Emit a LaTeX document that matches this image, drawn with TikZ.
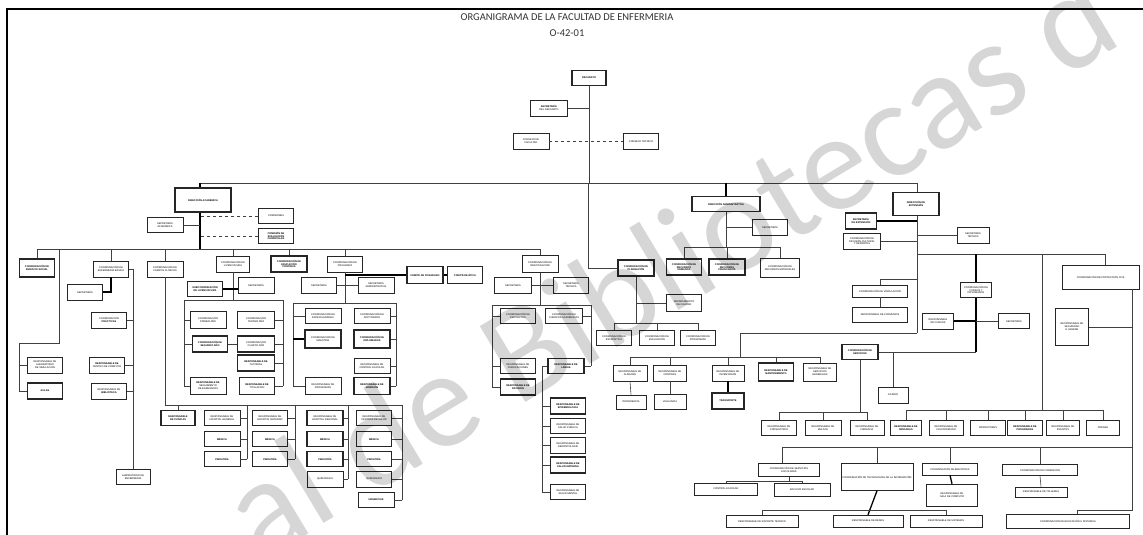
\documentclass[tikz,border=0pt]{standalone}
\usepackage{fontspec}
\newfontfamily\titlefont{Carlito}
\newfontfamily\boxfont{Liberation Sans}
\usetikzlibrary{positioning}

\tikzset{
  unit/.style={draw=black!85, line width=.6pt, fill=white, align=center,
    inner sep=.5pt, font=\boxfont\fontsize{2.5}{2.9}\selectfont},
  unitb/.style={unit, line width=1.4pt},
  link/.style={draw=black!75, line width=.6pt},
  linkb/.style={draw=black, line width=1.3pt},
  advise/.style={link, dashed},
}
% \unitbox[style]{name}{x}{y}{width}{height}{text}
\newcommand{\unitbox}[7][unit]{\node[#1, minimum width=#5pt, minimum height=#6pt] (#2) at (#3,#4) {#7};}

\begin{document}
\begin{tikzpicture}[x=1pt,y=-1pt]
\useasboundingbox[fill=white] (0,0) rectangle (1143,535);
\draw[line width=2pt] (7,535) -- (7,9) -- (1143,9);

\node[font=\titlefont\fontsize{10.5}{12}\selectfont, text=black!80] (title) at (567,17) {ORGANIGRAMA DE LA FACULTAD DE ENFERMERIA};
\node[font=\titlefont\fontsize{10.5}{12}\selectfont, text=black!80, below=2pt of title] (code) {O-42-01};

% decanato
\unitbox[unitb]{dec}{589}{78}{34}{15}{\textbf{DECANATO}}
\unitbox{sec}{549}{108}{37}{16}{\textbf{SECRETARÍA}\\DEL DECANATO}
\unitbox{cons}{531}{141}{36}{16}{CONSEJO DE\\FACULTAD}
\unitbox{asam}{641}{141}{35}{16}{CONSEJO TÉCNICO}

% direcciones
\unitbox[unitb]{diracad}{203}{200}{56}{24}{\textbf{DIRECCIÓN ACADÉMICA}}
\unitbox[unitb]{diradm}{726}{204}{68}{15}{\textbf{DIRECCIÓN ADMINISTRATIVA}}
\unitbox[unitb]{dirpos}{916}{204}{46}{23}{\textbf{DIRECCIÓN DE}\\\textbf{EXTENSIÓN}}

% academica
\unitbox{secacad}{165}{225}{36}{15}{SECRETARÍA\\ACADÉMICA}
\unitbox{comis1}{276}{216}{35}{15}{COMISIONES}
\unitbox[unitb]{comis2}{276}{236}{35}{15}{\textbf{COMISIÓN DE}\\\textbf{EVALUACIÓN}\\\textbf{CURRICULAR}}
\unitbox[unitb]{c1}{37}{268}{35}{18}{\textbf{COORDINACIÓN DE}\\\textbf{SERVICIO SOCIAL}}
\unitbox{c2}{111}{269}{35}{16}{COORDINACIÓN DE\\ENFERMERÍA BÁSICA}
\unitbox{c3}{165}{269}{36}{16}{COORDINACIÓN DE\\CAMPOS CLÍNICOS}
\unitbox{c4}{233}{264}{33}{16}{COORDINACIÓN DE\\LICENCIATURA}
\unitbox[unitb]{c5}{289}{264}{36}{16}{\textbf{COORDINACIÓN DE}\\\textbf{EDUCACIÓN}\\\textbf{CONTINUA}}
\unitbox{c6}{345}{264}{35}{16}{COORDINACIÓN DE\\POSGRADO}
\unitbox{c7}{540}{264}{36}{17}{COORDINACIÓN DE\\INVESTIGACIÓN}

\unitbox{c2a}{85}{292}{35}{16}{SECRETARÍA}
\unitbox{lA}{45}{365}{35}{16}{RESPONSABLE DE\\LABORATORIO\\DE SIMULACIÓN}
\unitbox[unitb]{lB}{45}{391}{35}{16}{\textbf{AULAS}}
\unitbox{c2r1}{109}{320}{35}{16}{COORDINACIÓN\\\textbf{PRÁCTICAS}}
\unitbox{c2r2}{107}{365}{35}{16}{\textbf{RESPONSABLE DE}\\CENTRO DE CÓMPUTO}
\unitbox{c2r3}{109}{391}{35}{16}{RESPONSABLE DE\\\textbf{BIBLIOTECA}}
\unitbox{c2r4}{133}{477}{34}{15}{LABORATORIO DE\\ENFERMERÍA}

\unitbox[unitb]{c4a}{205}{289}{35}{15}{\textbf{SUBCOORDINACIÓN}\\\textbf{DE LICENCIATURA}}
\unitbox{c4b}{256}{285}{36}{16}{SECRETARÍA}
\unitbox{g4l1}{208}{320}{36}{17}{COORDINACIÓN\\PRIMER AÑO}
\unitbox[unitb]{g4l2}{210}{344}{35}{16}{\textbf{COORDINACIÓN DE}\\\textbf{SEGUNDO AÑO}}
\unitbox{g4l3}{208}{386}{36}{17}{\textbf{RESPONSABLE DE}\\SEGUIMIENTO\\DE EGRESADOS}
\unitbox{g4r1}{256}{320}{37}{17}{COORDINACIÓN\\TERCER AÑO}
\unitbox[unitb]{g4r2}{256}{344}{37}{16}{COORDINACIÓN\\CUARTO AÑO}
\unitbox[unitb]{g4r3}{256}{363}{37}{16}{\textbf{RESPONSABLE DE}\\TUTORÍAS}
\unitbox{g4r4}{257}{386}{35}{17}{\textbf{RESPONSABLE DE}\\TITULACIÓN}

\unitbox{c6a}{319}{285}{35}{16}{SECRETARÍA}
\unitbox{c6b}{376}{285}{36}{16}{SECRETARÍA\\ADMINISTRATIVA}
\unitbox[unitb]{u1}{425}{275}{36}{17}{\textbf{COMITÉ DE POSGRADO}}
\unitbox[unitb]{u2}{465}{275}{35}{17}{\textbf{COMITÉ DE ÉTICA}}
\unitbox{g6l1}{323}{316}{36}{15}{COORDINACIÓN DE\\ESPECIALIDADES}
\unitbox[unitb]{g6l2}{323}{339}{36}{18}{COORDINACIÓN DE\\MAESTRÍA}
\unitbox{g6l3}{323}{386}{36}{17}{RESPONSABLE DE\\PROGRAMAS}
\unitbox{g6r1}{372}{316}{36}{15}{COORDINACIÓN DE\\DOCTORADO}
\unitbox[unitb]{g6r2}{372}{339}{36}{18}{\textbf{COORDINACIÓN DE}\\\textbf{DIPLOMADOS}}
\unitbox{g6r3}{372}{366}{36}{15}{RESPONSABLE DE\\CONTROL ESCOLAR}
\unitbox[unitb]{g6r4}{372}{386}{36}{17}{\textbf{RESPONSABLE DE}\\\textbf{ADMISIÓN}}

\unitbox{c7a}{513}{285}{37}{16}{SECRETARÍA}
\unitbox{c7b}{571}{285}{35}{16}{SECRETARÍA\\TÉCNICA}
\unitbox{g7l1}{518}{316}{35}{15}{COORDINACIÓN DE\\PROYECTOS}
\unitbox{g7l2}{518}{366}{35}{15}{RESPONSABLE DE\\PUBLICACIONES}
\unitbox[unitb]{g7l3}{518}{387}{35}{16}{\textbf{RESPONSABLE DE}\\\textbf{DIFUSIÓN}}
\unitbox{g7r1}{564}{316}{37}{15}{COORDINACIÓN DE\\CUERPOS ACADÉMICOS}
\unitbox[unitb]{g7r2}{566}{366}{36}{15}{\textbf{RESPONSABLE DE}\\\textbf{LÍNEAS}}
\unitbox[unitb]{g7s1}{568}{406}{35}{16}{\textbf{RESPONSABLE DE}\\\textbf{EPIDEMIOLOGÍA}}
\unitbox{g7s2}{568}{426}{35}{15}{RESPONSABLE DE\\SALUD PÚBLICA}
\unitbox{g7s3}{568}{445}{35}{16}{RESPONSABLE DE\\GERONTOLOGÍA}
\unitbox[unitb]{g7s4}{568}{465}{35}{16}{\textbf{RESPONSABLE DE}\\\textbf{SALUD MATERNA}}
\unitbox{g7s5}{568}{492}{35}{15}{RESPONSABLE DE\\SALUD MENTAL}

% clinicas
\unitbox[unitb]{b1}{178}{418}{34}{15}{\textbf{RESPONSABLE}\\\textbf{DE CLÍNICAS}}
\unitbox{b2a}{222}{418}{36}{15}{RESPONSABLE DE\\HOSPITAL GENERAL}
\unitbox{b2b}{222}{439}{36}{15}{\textbf{MÉDICA}}
\unitbox{b2c}{222}{459}{36}{15}{\textbf{PEDIATRÍA}}
\unitbox{b3a}{270}{418}{35}{15}{RESPONSABLE DE\\HOSPITAL MATERNO}
\unitbox{b3b}{270}{439}{35}{15}{\textbf{MÉDICA}}
\unitbox{b3c}{270}{459}{35}{15}{\textbf{PEDIATRÍA}}
\unitbox[unitb]{b4a}{325}{418}{36}{15}{RESPONSABLE DE\\HOSPITAL REGIONAL}
\unitbox[unitb]{b4b}{325}{439}{36}{15}{\textbf{MÉDICA}}
\unitbox[unitb]{b4c}{325}{459}{36}{15}{\textbf{PEDIATRÍA}}
\unitbox{b4d}{325}{479}{36}{16}{QUIRÚRGICA}
\unitbox{b5a}{374}{418}{35}{15}{RESPONSABLE DE\\CENTROS DE SALUD}
\unitbox{b5b}{374}{439}{35}{15}{\textbf{MÉDICA}}
\unitbox{b5c}{374}{459}{35}{15}{\textbf{PEDIATRÍA}}
\unitbox{b5d}{374}{479}{35}{16}{QUIRÚRGICA}
\unitbox{b5e}{376}{500}{36}{15}{\textbf{URGENCIAS}}

% planeacion
\unitbox[unitb]{m1}{636}{268}{36}{16}{\textbf{COORDINACIÓN DE}\\\textbf{PLANEACIÓN}}
\unitbox{m2}{684}{303}{35}{17}{DEPARTAMENTO\\DE CALIDAD}
\unitbox{m3}{614}{338}{35}{15}{COORDINACIÓN DE\\ESTADÍSTICA}
\unitbox{m4}{657}{338}{35}{15}{COORDINACIÓN DE\\EVALUACIÓN}
\unitbox{m5}{698}{338}{35}{15}{COORDINACIÓN DE\\PROGRAMAS}

% administrativa
\unitbox{da1}{770}{227}{35}{16}{SECRETARÍA}
\unitbox[unitb]{da2}{684}{267}{35}{16}{\textbf{COORDINACIÓN DE}\\\textbf{RECURSOS}\\\textbf{HUMANOS}}
\unitbox[unitb]{da3}{727}{267}{36}{16}{\textbf{COORDINACIÓN DE}\\\textbf{RECURSOS}\\\textbf{FINANCIEROS}}
\unitbox{da4}{780}{268}{39}{19}{COORDINACIÓN DE\\RECURSOS MATERIALES}

% extension
\unitbox[unitb]{dp1}{861}{221}{31}{16}{\textbf{SECRETARÍA}\\\textbf{DE EXTENSIÓN}}
\unitbox{dp2}{862}{241}{37}{16}{COORDINACIÓN DE\\DIFUSIÓN CULTURAL\\Y DEPORTES}
\unitbox{dp3}{973}{235}{32}{16}{SECRETARÍA\\TÉCNICA}
\unitbox{dp4}{880}{291}{55}{12}{COORDINACIÓN DE VINCULACIÓN}
\unitbox{dp5}{880}{315}{55}{15}{RESPONSABLE DE CONVENIOS}
\unitbox{e1}{630}{373}{34}{16}{RESPONSABLE DE\\ALMACÉN}
\unitbox{e2}{670}{373}{33}{16}{RESPONSABLE DE\\COMPRAS}
\unitbox{e3}{728}{373}{32}{16}{RESPONSABLE DE\\INVENTARIOS}
\unitbox[unitb]{e4}{776}{372}{35}{18}{\textbf{RESPONSABLE DE}\\\textbf{MANTENIMIENTO}}
\unitbox{e5}{820}{372}{33}{18}{RESPONSABLE DE\\SERVICIOS\\GENERALES}
\unitbox{e1b}{631}{402}{30}{14}{INTENDENCIA}
\unitbox{e2b}{670}{402}{32}{15}{VIGILANCIA}
\unitbox[unitb]{e3b}{728}{401}{32}{16}{\textbf{TRANSPORTE}}
\unitbox{f1}{976}{290}{31}{15}{COORDINACIÓN DE\\CURSOS Y\\DIPLOMADOS}
\unitbox{f2}{938}{321}{31}{16}{RESPONSABLE\\DE CURSOS}
\unitbox{f3}{1014}{321}{31}{15}{SECRETARÍA}
\unitbox[unitb]{f4}{860}{352}{36}{15}{\textbf{COORDINACIÓN DE}\\\textbf{SERVICIOS}}
\unitbox{f5}{893}{395}{30}{16}{CAJERO}
\unitbox{g1}{779}{428}{35}{15}{RESPONSABLE DE\\CONSULTORIO}
\unitbox{g2}{823}{428}{36}{15}{RESPONSABLE DE\\ENLACE}
\unitbox{g3}{867}{428}{34}{15}{RESPONSABLE DE\\FARMACIA}
\unitbox[unitb]{h1}{906}{428}{31}{15}{\textbf{RESPONSABLE DE}\\\textbf{BRIGADAS}}
\unitbox{h2}{946}{428}{34}{15}{RESPONSABLE DE\\VOLUNTARIADO}
\unitbox{h3}{988}{428}{35}{15}{PROMOTORES}
\unitbox[unitb]{h4}{1025}{428}{35}{15}{\textbf{RESPONSABLE DE}\\\textbf{PROGRAMAS}}
\unitbox{h5}{1063}{428}{33}{15}{RESPONSABLE DE\\EVENTOS}
\unitbox{h6}{1103}{428}{33}{15}{PRENSA}
\unitbox{k1}{1101}{277}{77}{24}{COORDINACIÓN DE PROTECCIÓN CIVIL}
\unitbox{k2}{1072}{327}{33}{37}{RESPONSABLE DE\\SEGURIDAD\\E HIGIENE}
\unitbox{n1}{789}{470}{61}{13}{COORDINACIÓN DE SERVICIOS\\ESCOLARES}
\unitbox{n1a}{726}{489}{63}{12}{CONTROL ESCOLAR}
\unitbox{n1b}{802}{490}{56}{13}{ARCHIVO ESCOLAR}
\unitbox{n2}{877}{477}{72}{27}{COORDINACIÓN DE TECNOLOGÍAS DE LA INFORMACIÓN}
\unitbox{n2a}{762}{521}{72}{12}{RESPONSABLE DE SOPORTE TÉCNICO}
\unitbox{n2b}{868}{521}{70}{12}{RESPONSABLE DE REDES}
\unitbox{n2c}{946}{521}{72}{12}{RESPONSABLE DE SISTEMAS}
\unitbox{n3}{950}{469}{55}{12}{COORDINACIÓN DE BIBLIOTECA}
\unitbox{n3a}{952}{495}{51}{22}{RESPONSABLE DE\\SALA DE CÓMPUTO}
\unitbox{n4}{1040}{470}{75}{11}{COORDINACIÓN DE FORMACIÓN}
\unitbox{n4a}{1041}{492}{52}{10}{RESPONSABLE DE TALLERES}
\unitbox{n5}{1068}{521}{123}{14}{COORDINACIÓN DE EDUCACIÓN A DISTANCIA}

% bars
\coordinate (bar0L) at (200,183);
\coordinate (bar0R) at (917,183);
\coordinate (bar1L) at (37,249);
\coordinate (bar1R) at (540,249);
\coordinate (lbend) at (59,343);
\coordinate (lbus) at (19,343);
\coordinate (c2bus) at (133,269);
\coordinate (bar5L) at (165,405);
\coordinate (bar5R) at (402,405);
\coordinate (busB) at (247,405);
\coordinate (busC) at (295,405);
\coordinate (busD) at (348,405);
\coordinate (g4L) at (184,300);
\coordinate (g4R) at (283,300);
\coordinate (g6L) at (293,303);
\coordinate (g6R) at (396,303);
\coordinate (g7L) at (492,305);
\coordinate (g7R) at (591,305);
\coordinate (sbus) at (542,366);
\coordinate (mtop) at (588,183);
\coordinate (mbarL) at (614,323);
\coordinate (mbarR) at (698,323);
\coordinate (dabarL) at (684,247);
\coordinate (dabarR) at (780,247);
\coordinate (dpbus) at (917,333);
\coordinate (dpbarR) at (1105,254);
\coordinate (dp4knee) at (917,279);
\coordinate (ebend) at (740,333);
\coordinate (ebarL) at (630,357);
\coordinate (ebarR) at (820,357);
\coordinate (fbus) at (976,254);
\coordinate (fend) at (976,352);
\coordinate (f5top) at (893,352);
\coordinate (gbarL) at (779,412);
\coordinate (gbarR) at (867,412);
\coordinate (hbus) at (1042,254);
\coordinate (hbarL) at (906,410);
\coordinate (hbarR) at (1103,410);
\coordinate (kbus) at (1132,510);
\coordinate (n5knee) at (1077,510);
\coordinate (nbarL) at (782,447);
\coordinate (nbarR) at (1132,447);
\coordinate (n1barL) at (726,481);
\coordinate (n1barR) at (802,481);
\coordinate (n2barL) at (762,510);
\coordinate (n2barR) at (946,510);

% top links
\draw[link] (dec.south) -- (dec.south |- bar0L);
\draw[link] (sec.east) -- (sec.east -| dec.south);
\draw[advise] (cons.east) -- (asam.west);
\draw[link] (bar0L) -- (bar0R);

% academica links
\draw[linkb] (bar0L) -- (bar0L |- diracad.north);
\draw[linkb] (diracad.south -| bar0L) -- (bar0L |- bar1L);
\draw[link] (secacad.east) -- (secacad.east -| bar0L);
\draw[advise] (comis1.west) -- (comis1.west -| bar0L);
\draw[advise] (comis2.west) -- (comis2.west -| bar0L);
\draw[link] (bar1L) -- (bar1R);
\foreach \n in {c1,c2,c3,c4,c5,c6,c7}
  \draw[link] (\n.north) -- (\n.north |- bar1L);
\draw[link] (lbend |- bar1L) -- (lbend) -- (lbus) -- (lbus |- lB.west);
\foreach \n in {lA,lB}
  \draw[link] (\n.west) -- (\n.west -| lbus);
\draw[linkb] (c2.south) -- (c2.south |- c2a.east) -- (c2a.east);
\draw[link] (c2.east) -- (c2bus) -- (c2bus |- c2r4.north);
\foreach \n in {c2r1,c2r2,c2r3}
  \draw[link] (\n.east) -- (\n.east -| c2bus);

% clinicas
\draw[link] (c3.south) -- (bar5L) -- (bar5R) -- (bar5R |- b5e.east);
\draw[link] (b1.north) -- (b1.north |- bar5L);
\draw[link] (busB) -- (busB |- b2c.east);
\draw[link] (busC) -- (busC |- b3c.east);
\draw[link] (busD) -- (busD |- b4d.east);
\foreach \n in {b2a,b2b,b2c} \draw[link] (\n.east) -- (\n.east -| busB);
\foreach \n in {b3a,b3b,b3c} \draw[link] (\n.east) -- (\n.east -| busC);
\foreach \n in {b4a,b4b,b4c,b4d} \draw[link] (\n.east) -- (\n.east -| busD);
\foreach \n in {b5a,b5b,b5c,b5d,b5e} \draw[link] (\n.east) -- (\n.east -| bar5R);

% licenciatura
\draw[link] (c4.south) -- (c4.south |- g4L);
\draw[linkb] (c4a.east) -- (c4a.east -| c4b.west);
\draw[link] (g4L) -- (g4R);
\draw[link] (g4L) -- (g4L |- g4l3.west);
\draw[link] (g4R) -- (g4R |- g4r4.east);
\foreach \n in {g4l1,g4l2,g4l3} \draw[link] (\n.west) -- (\n.west -| g4L);
\foreach \n in {g4r1,g4r2,g4r3,g4r4} \draw[link] (\n.east) -- (\n.east -| g4R);
\draw[link] (g4l2.east) -- (g4r2.west);

% posgrado
\draw[link] (c6.south) -- (c6.south |- g6L);
\draw[link] (c6a.east) -- (c6b.west);
\draw[linkb] (c6.south |- u1.west) -- (u1.west);
\draw[linkb] (u1.east) -- (u2.west);
\draw[link] (g6L) -- (g6R);
\draw[link] (g6L) -- (g6L |- g6l3.west);
\draw[link] (g6R) -- (g6R |- g6r4.east);
\draw[linkb] (g6l2.west) -- (g6l2.west -| g6L);
\foreach \n in {g6l1,g6l3} \draw[link] (\n.west) -- (\n.west -| g6L);
\foreach \n in {g6r1,g6r2,g6r3,g6r4} \draw[link] (\n.east) -- (\n.east -| g6R);

% investigacion
\draw[link] (c7.south) -- (c7.south |- g7L);
\draw[link] (c7a.east) -- (c7b.west);
\draw[link] (g7L) -- (g7R);
\draw[link] (g7L) -- (g7L |- g7l3.west);
\draw[link] (g7R) -- (g7R |- g7r2.east);
\foreach \n in {g7l1,g7l2,g7l3} \draw[link] (\n.west) -- (\n.west -| g7L);
\foreach \n in {g7r1,g7r2} \draw[link] (\n.east) -- (\n.east -| g7R);
\draw[link] (g7r2.west) -- (sbus) -- (sbus |- g7s5.west);
\foreach \n in {g7s1,g7s2,g7s3,g7s4,g7s5} \draw[link] (\n.west) -- (\n.west -| sbus);

% planeacion
\draw[link] (mtop) -- (mtop |- m1.west) -- (m1.west);
\draw[link] (m1.south) -- (m1.south |- mbarL);
\draw[link] (m2.west) -- (m2.west -| m1.south);
\draw[link] (mbarL) -- (mbarR);
\foreach \n in {m3,m4,m5} \draw[link] (\n.north) -- (\n.north |- mbarL);

% administrativa
\draw[linkb] (diradm.north) -- (diradm.north |- bar0L);
\draw[link] (diradm.south) -- (diradm.south |- dabarL);
\draw[link] (da1.west) -- (da1.west -| diradm.south);
\draw[link] (dabarL) -- (dabarR);
\foreach \n in {da2,da3,da4} \draw[link] (\n.north) -- (\n.north |- dabarL);

% extension
\draw[link] (bar0R) -- (bar0R |- dirpos.north);
\draw[link] (dirpos.south -| dpbus) -- (dpbus);
\draw[linkb] (dp1.east) -- (dp1.east -| dpbus);
\draw[link] (dp2.east) -- (dp2.east -| dpbus);
\draw[link] (dp3.west) -- (dp3.west -| dpbus);
\draw[link] (dpbus |- dpbarR) -- (dpbarR);
\draw[link] (dp4knee) -- (dp4knee -| dp4.north) -- (dp4.north);
\draw[link] (dp4.south) -- (dp5.north);
\draw[link] (dpbus) -- (ebend) -- (ebend |- ebarL);
\draw[link] (ebarL) -- (ebarR);
\foreach \n in {e1,e2,e3,e4,e5} \draw[link] (\n.north) -- (\n.north |- ebarL);
\draw[link] (e1.south) -- (e1b.north);
\draw[link] (e2.south) -- (e2b.north);
\draw[linkb] (e3.south) -- (e3b.north);
\draw[linkb] (fbus) -- (f1.north);
\draw[linkb] (f1.south) -- (fend);
\draw[linkb] (f2.east) -- (f2.east -| fend);
\draw[link] (f3.west) -- (f3.west -| fend);
\draw[link] (fend) -- (f4.east);
\draw[link] (f5top) -- (f5.north);
\draw[link] (f4.south) -- (f4.south |- gbarL);
\draw[link] (gbarL) -- (gbarR);
\foreach \n in {g1,g2,g3} \draw[link] (\n.north) -- (\n.north |- gbarL);
\draw[link] (hbus) -- (hbus |- hbarL);
\draw[link] (hbarL) -- (hbarR);
\foreach \n in {h1,h2,h3,h4,h5,h6} \draw[link] (\n.north) -- (\n.north |- hbarL);

% proteccion civil
\draw[link] (dpbarR) -- (dpbarR |- k1.north);
\draw[link] (k1.south -| kbus) -- (kbus) -- (n5knee) -- (n5knee |- n5.north);
\draw[link] (k2.east) -- (k2.east -| kbus);
\draw[link] (nbarL) -- (nbarR);
\draw[link] (nbarL) -- (nbarL |- n1.north);
\foreach \n in {n2,n3,n4} \draw[link] (\n.north) -- (\n.north |- nbarL);
\draw[link] (n1.south) -- (n1.south |- n1barL);
\draw[link] (n1barL) -- (n1barR);
\foreach \n in {n1a,n1b} \draw[link] (\n.north) -- (\n.north |- n1barL);
\draw[linkb] (n2.south) -- (n2b.north);
\draw[link] (n2barL) -- (n2barR);
\foreach \n in {n2a,n2c} \draw[link] (\n.north) -- (\n.north |- n2barL);
\draw[linkb] (n3.south) -- (n3a.north);
\draw[link] (n4.south) -- (n4a.north);

% marca de agua
\begin{scope}
\clip (0,0) rectangle (1143,535);
\node[rotate=31, text=black, text opacity=.16, font=\titlefont\fontsize{138}{138}\selectfont] (mark) at (668,262) {al de Bibliotecas d};
\end{scope}
\end{tikzpicture}
\end{document}
